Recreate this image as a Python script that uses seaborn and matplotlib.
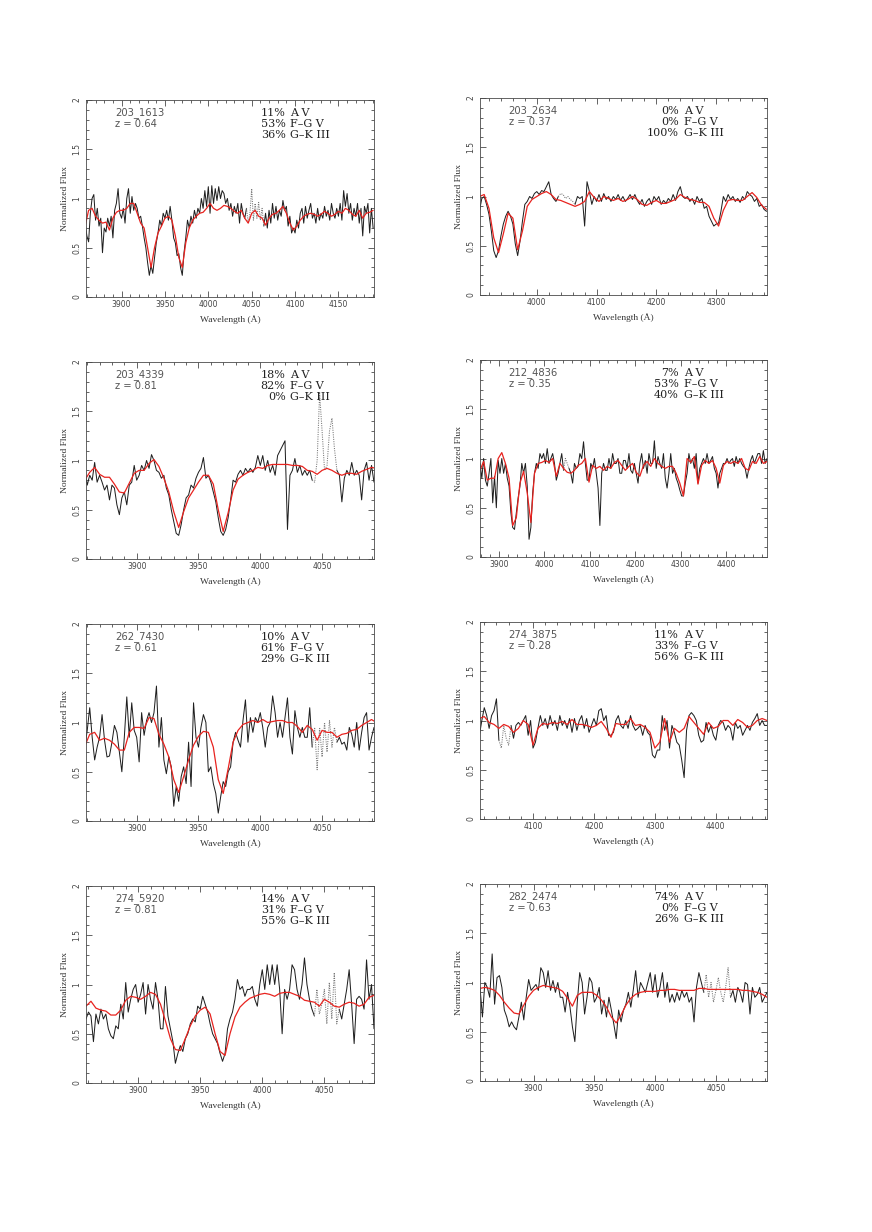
import numpy as np
import seaborn as sns
import matplotlib.pyplot as plt
from matplotlib.ticker import MultipleLocator, FuncFormatter

# Panel labels and fit fractions
galaxy_ids = ["203_1613", "203_2634", "203_4339", "212_4836",
              "262_7430", "274_3875", "274_5920", "282_2474"]
redshifts = ["0.64", "0.37", "0.81", "0.35", "0.61", "0.28", "0.81", "0.63"]
pct_av = [11, 0, 18, 7, 10, 11, 14, 74]
pct_fgv = [53, 0, 82, 53, 61, 33, 31, 0]
pct_gkiii = [36, 100, 0, 40, 29, 56, 55, 26]
type_names = ["A V", "F\u2013G V", "G\u2013K III"]

# Rest-frame wavelength windows and sky-line regions (drawn dotted)
x_limits = [(3859, 4191), (3905, 4385), (3859, 4092), (3858, 4490),
            (3859, 4092), (4013, 4484), (3858, 4090), (3856, 4092)]
x_major = [50, 100, 50, 100, 50, 100, 50, 50]
sky_masks = [(4044, 4064), (4036, 4064), (4042, 4062), (4042, 4054),
             (4042, 4062), (4044, 4064), (4042, 4062), (4040, 4062)]

# Observed spectra: first wavelength, sampling step (A), normalized flux
obs_start = [3858, 3904, 3858, 3858, 3858, 4012, 3858, 3856]
obs_step = [2, 4, 2, 4, 2, 4, 2, 2]

obs_1 = [0.75, 0.62, 0.56, 0.85, 1.0, 1.04, 0.78, 0.9, 0.72, 0.8,
         0.45, 0.7, 0.66, 0.8, 0.72, 0.82, 0.6, 0.88, 0.95, 1.1,
         0.85, 0.8, 0.9, 0.75, 1.0, 1.1, 0.85, 1.02, 0.88, 0.95,
         0.9, 0.8, 0.82, 0.72, 0.6, 0.5, 0.35, 0.22, 0.32, 0.24,
         0.4, 0.55, 0.65, 0.78, 0.72, 0.85, 0.8, 0.88, 0.78, 0.92,
         0.78, 0.6, 0.55, 0.42, 0.44, 0.3, 0.22, 0.45, 0.6, 0.78,
         0.7, 0.82, 0.75, 0.88, 0.8, 0.9, 0.85, 1.0, 0.9, 1.08,
         0.92, 1.12, 0.85, 1.13, 0.95, 1.1, 0.98, 1.12, 1.0, 1.08,
         1.05, 0.95, 1.0, 0.88, 0.95, 0.82, 0.92, 0.85, 0.95, 0.75,
         0.95, 0.85, 0.8, 0.9, 0.75, 0.85, 1.1, 0.78, 0.95, 0.8,
         0.96, 0.78, 0.9, 0.72, 0.85, 0.7, 0.88, 0.75, 0.95, 0.8,
         0.92, 0.78, 0.88, 0.82, 0.98, 0.88, 0.92, 0.72, 0.82, 0.65,
         0.7, 0.65, 0.78, 0.7, 0.85, 0.9, 0.75, 0.92, 0.8, 0.88,
         0.95, 0.8, 0.85, 0.75, 0.9, 0.78, 0.85, 0.8, 0.92, 0.82,
         0.88, 0.78, 0.95, 0.85, 0.8, 0.9, 0.82, 0.95, 0.78, 1.08,
         0.92, 1.05, 0.85, 0.95, 0.78, 0.9, 0.82, 0.95, 0.75, 0.9,
         0.62, 0.92, 0.85, 0.95, 0.65, 0.9, 0.7]

obs_2 = [0.85, 0.98, 1.0, 0.92, 0.82, 0.65, 0.45, 0.38, 0.45, 0.6,
         0.72, 0.8, 0.85, 0.8, 0.72, 0.52, 0.4, 0.55, 0.75, 0.92,
         0.95, 1.0, 0.98, 1.03, 1.05, 1.02, 1.06, 1.05, 1.1, 1.15,
         1.02, 0.98, 0.95, 1.0, 1.03, 1.02, 0.98, 1.0, 0.97, 0.95,
         0.92, 1.0, 0.98, 1.0, 0.7, 1.15, 1.05, 0.92, 1.0, 0.95,
         1.02, 0.95, 1.03, 0.97, 1.0, 0.95, 1.0, 0.97, 1.02, 0.96,
         1.0, 0.95, 0.98, 1.02, 0.97, 1.02, 0.96, 0.92, 0.97, 0.9,
         0.95, 0.98, 0.92, 1.0, 0.96, 1.0, 0.92, 0.96, 0.93, 0.98,
         0.95, 1.02, 0.96, 1.05, 1.1, 1.0, 0.98, 1.0, 0.95, 0.98,
         0.92, 1.0, 0.95, 0.98, 0.88, 0.9, 0.8, 0.75, 0.7, 0.72,
         0.73, 0.85, 1.0, 0.95, 1.02, 0.97, 1.0, 0.95, 0.98, 0.94,
         1.0, 0.97, 1.05, 1.02, 1.0, 0.95, 0.98, 0.9, 0.92, 0.87,
         0.85, 0.86]

obs_3 = [0.9, 0.75, 0.85, 0.8, 0.98, 0.78, 0.85, 0.78, 0.7, 0.75,
         0.6, 0.75, 0.72, 0.55, 0.45, 0.62, 0.68, 0.55, 0.75, 0.78,
         0.95, 0.8, 0.85, 0.95, 0.9, 1.0, 0.92, 1.06, 1.0, 0.9,
         0.88, 0.82, 0.85, 0.72, 0.65, 0.5, 0.38, 0.26, 0.24, 0.35,
         0.5, 0.62, 0.65, 0.75, 0.72, 0.82, 0.88, 0.92, 1.03, 0.82,
         0.85, 0.78, 0.68, 0.58, 0.42, 0.28, 0.24, 0.3, 0.42, 0.6,
         0.8, 0.78, 0.86, 0.9, 0.85, 0.92, 0.88, 0.92, 0.88, 0.93,
         1.05, 0.95, 1.05, 0.9, 1.0, 0.88, 0.95, 0.85, 1.05, 1.1,
         1.15, 1.2, 0.3, 0.85, 0.9, 1.02, 0.88, 0.95, 0.85, 0.9,
         0.85, 0.9, 0.8, 0.78, 1.0, 1.68, 1.3, 0.9, 0.95, 1.3,
         1.43, 1.12, 0.9, 0.85, 0.58, 0.82, 0.9, 0.85, 0.98, 0.85,
         0.9, 0.85, 0.6, 0.9, 0.98, 0.8, 0.95, 0.78]

obs_4 = [0.95, 0.8, 1.0, 0.78, 0.72, 0.85, 1.0, 0.55, 0.82, 0.5,
         0.98, 0.85, 1.0, 0.85, 0.95, 0.8, 0.72, 0.45, 0.3, 0.28,
         0.45, 0.6, 0.72, 0.95, 0.85, 0.95, 0.72, 0.18, 0.3, 0.65,
         0.85, 0.95, 0.9, 1.05, 1.0, 1.05, 0.95, 1.1, 0.95, 1.0,
         1.05, 0.95, 0.78, 0.85, 0.95, 1.05, 0.88, 1.0, 0.95, 0.9,
         0.85, 0.75, 0.95, 0.9, 0.92, 1.05, 1.0, 1.17, 0.95, 0.78,
         0.78, 0.95, 0.9, 1.0, 0.85, 0.7, 0.32, 0.85, 0.95, 0.88,
         0.88, 1.0, 0.9, 1.05, 0.95, 0.95, 1.0, 0.85, 0.85, 0.98,
         0.98, 0.9, 1.05, 0.88, 0.85, 0.95, 0.85, 0.75, 0.95, 1.05,
         0.9, 0.98, 0.85, 1.05, 0.95, 0.95, 1.18, 0.9, 1.02, 0.95,
         0.9, 1.05, 0.8, 0.7, 0.85, 1.05, 0.85, 0.9, 0.8, 0.75,
         0.68, 0.62, 0.62, 0.75, 0.85, 1.05, 0.95, 1.0, 0.9, 1.05,
         0.75, 0.9, 0.95, 1.0, 0.95, 1.05, 0.95, 0.98, 1.02, 0.9,
         0.85, 0.7, 0.85, 0.9, 0.95, 0.95, 1.0, 0.95, 0.98, 1.0,
         0.92, 1.02, 0.95, 1.0, 0.95, 0.92, 0.9, 0.8, 0.9, 0.98,
         1.03, 0.95, 1.0, 1.05, 1.05, 0.95, 1.08, 0.95, 1.0]

obs_5 = [0.75, 0.92, 1.15, 0.85, 0.62, 0.75, 0.85, 1.08, 0.82, 0.65,
         0.66, 0.8, 0.97, 0.9, 0.7, 0.5, 0.85, 1.26, 0.85, 1.2,
         0.92, 0.85, 0.6, 1.1, 0.87, 1.02, 1.1, 1.0, 1.1, 1.37,
         0.75, 1.05, 0.62, 0.48, 0.65, 0.55, 0.15, 0.35, 0.2, 0.45,
         0.55, 0.38, 0.8, 0.35, 1.2, 0.85, 0.75, 0.95, 1.08, 1.0,
         0.5, 0.55, 0.38, 0.28, 0.08, 0.25, 0.4, 0.35, 0.5, 0.55,
         0.8, 0.9, 0.82, 0.75, 1.02, 1.23, 0.8, 1.05, 0.9, 1.05,
         1.0, 1.1, 0.95, 0.75, 0.95, 1.0, 1.27, 1.1, 0.85, 1.0,
         0.85, 1.05, 1.25, 0.85, 0.68, 1.12, 0.95, 0.85, 0.95, 0.85,
         0.85, 1.15, 0.75, 0.95, 0.52, 0.95, 0.65, 1.0, 0.7, 1.02,
         0.75, 0.95, 0.8, 0.85, 0.78, 0.8, 0.72, 0.95, 0.88, 0.75,
         1.0, 0.72, 0.9, 1.05, 1.1, 0.72, 0.85, 0.95]

obs_6 = [0.85, 1.0, 1.13, 1.05, 0.92, 1.05, 1.1, 1.22, 0.8, 0.72,
         0.95, 0.82, 0.75, 0.95, 0.82, 0.95, 0.98, 0.95, 1.0, 1.05,
         0.85, 1.0, 0.72, 0.78, 0.92, 1.05, 0.95, 1.02, 0.92, 1.05,
         0.95, 1.0, 0.9, 1.05, 0.95, 1.0, 0.92, 1.02, 0.88, 1.02,
         0.9, 1.0, 1.05, 0.92, 1.02, 0.88, 0.95, 1.02, 0.95, 1.1,
         1.12, 1.0, 1.05, 0.85, 0.85, 0.88, 1.0, 1.05, 0.95, 0.92,
         1.0, 0.92, 1.05, 0.95, 0.9, 0.92, 0.95, 0.85, 0.95, 0.88,
         0.85, 0.65, 0.62, 0.7, 0.7, 1.05, 0.9, 1.0, 0.72, 0.95,
         0.88, 0.78, 0.75, 0.6, 0.42, 0.9, 1.05, 1.08, 1.05, 1.0,
         0.85, 0.78, 0.8, 0.98, 0.88, 0.95, 0.85, 0.8, 0.95, 1.0,
         0.98, 0.9, 0.95, 0.92, 0.8, 0.98, 0.92, 0.95, 0.85, 0.9,
         0.95, 0.9, 0.98, 1.02, 1.07, 0.95, 1.0, 0.95, 0.95]

obs_7 = [0.65, 0.72, 0.68, 0.42, 0.7, 0.6, 0.75, 0.65, 0.7, 0.55,
         0.48, 0.45, 0.58, 0.55, 0.8, 0.65, 1.02, 0.72, 0.85, 0.95,
         1.0, 0.82, 0.9, 1.02, 0.7, 1.0, 0.85, 0.75, 1.02, 0.85,
         0.55, 0.55, 0.98, 0.68, 0.55, 0.42, 0.2, 0.3, 0.38, 0.32,
         0.45, 0.5, 0.6, 0.65, 0.62, 0.78, 0.75, 0.88, 0.8, 0.72,
         0.6, 0.5, 0.45, 0.4, 0.3, 0.22, 0.3, 0.55, 0.65, 0.72,
         0.85, 1.05, 0.95, 0.98, 0.88, 0.95, 0.95, 0.98, 0.85, 0.78,
         1.0, 1.15, 0.95, 1.2, 1.0, 1.2, 1.0, 1.2, 0.95, 0.5,
         0.95, 0.85, 0.95, 1.2, 1.15, 0.95, 0.85, 1.0, 1.27, 1.0,
         0.85, 0.75, 0.68, 0.95, 0.7, 0.8, 0.95, 0.6, 1.02, 0.65,
         1.12, 0.6, 0.75, 0.65, 0.8, 0.95, 1.15, 0.8, 0.4, 0.85,
         0.88, 0.85, 0.75, 1.25, 0.85, 1.0, 0.55]

obs_8 = [0.95, 0.65, 1.0, 0.95, 0.85, 1.29, 0.78, 1.05, 1.07, 0.95,
         0.72, 0.65, 0.55, 0.6, 0.55, 0.52, 0.65, 0.8, 0.62, 0.85,
         1.03, 0.92, 0.95, 0.98, 0.92, 1.15, 1.1, 0.95, 1.12, 0.92,
         1.02, 0.9, 1.0, 0.85, 0.85, 0.7, 0.9, 0.75, 0.55, 0.4,
         0.8, 1.1, 1.0, 0.68, 0.85, 1.05, 1.0, 0.8, 0.85, 0.95,
         0.68, 0.82, 0.65, 0.85, 0.72, 0.58, 0.43, 0.72, 0.6, 0.72,
         0.78, 0.9, 0.75, 0.92, 1.12, 0.85, 1.0, 0.95, 0.9, 1.0,
         1.1, 0.9, 1.08, 0.85, 0.95, 1.1, 0.85, 1.0, 0.8, 0.88,
         0.8, 0.9, 0.82, 0.92, 0.85, 0.9, 0.8, 0.85, 0.6, 0.95,
         1.1, 1.0, 0.9, 1.08, 0.85, 1.0, 0.8, 0.92, 1.05, 0.9,
         0.8, 0.95, 1.15, 0.85, 0.92, 0.8, 0.95, 0.9, 0.8, 1.0,
         0.98, 0.68, 0.95, 0.85, 0.88, 0.95, 0.8, 0.85, 0.9]

# Best-fit composite templates
model_start = [3858, 3904, 3858, 3858, 3858, 4012, 3858, 3856]
model_step = [4, 8, 4, 8, 4, 8, 4, 4]

model_1 = [0.72, 0.88, 0.9, 0.82, 0.78, 0.75, 0.76, 0.68, 0.8, 0.86,
           0.88, 0.88, 0.9, 0.95, 0.95, 0.85, 0.75, 0.7, 0.5, 0.3,
           0.5, 0.65, 0.72, 0.8, 0.82, 0.78, 0.62, 0.4, 0.3, 0.55,
           0.7, 0.78, 0.82, 0.85, 0.86, 0.9, 0.95, 0.9, 0.88, 0.9,
           0.93, 0.92, 0.9, 0.87, 0.85, 0.88, 0.8, 0.75, 0.85, 0.88,
           0.82, 0.8, 0.73, 0.8, 0.84, 0.85, 0.88, 0.92, 0.85, 0.75,
           0.68, 0.72, 0.78, 0.82, 0.84, 0.85, 0.84, 0.82, 0.84, 0.87,
           0.85, 0.82, 0.84, 0.87, 0.85, 0.9, 0.88, 0.84, 0.82, 0.88,
           0.8, 0.85, 0.86, 0.88]

model_2 = [1.0, 1.02, 0.88, 0.58, 0.43, 0.62, 0.83, 0.78, 0.46, 0.65,
           0.9, 0.97, 1.0, 1.03, 1.05, 1.02, 0.97, 0.96, 0.94, 0.92,
           0.9, 0.92, 0.95, 1.05, 0.99, 0.95, 1.0, 0.98, 0.96, 0.98,
           0.95, 0.97, 1.0, 0.97, 0.92, 0.91, 0.94, 0.96, 0.93, 0.93,
           0.95, 0.97, 1.02, 0.99, 0.97, 0.96, 0.94, 0.94, 0.9, 0.78,
           0.7, 0.86, 0.96, 0.97, 0.96, 0.96, 1.0, 1.04, 0.99, 0.91,
           0.87]

model_3 = [0.8, 0.88, 0.93, 0.86, 0.83, 0.83, 0.76, 0.68, 0.67, 0.77,
           0.87, 0.9, 0.9, 0.97, 1.01, 0.94, 0.82, 0.68, 0.48, 0.32,
           0.48, 0.62, 0.7, 0.78, 0.85, 0.85, 0.76, 0.5, 0.28, 0.47,
           0.7, 0.81, 0.85, 0.88, 0.9, 0.93, 0.92, 0.95, 0.96, 0.96,
           0.96, 0.96, 0.95, 0.95, 0.94, 0.9, 0.89, 0.86, 0.9, 0.92,
           0.9, 0.87, 0.85, 0.87, 0.87, 0.86, 0.89, 0.91, 0.93, 0.92]

model_4 = [0.88, 0.97, 0.78, 0.8, 0.8, 1.0, 1.06, 0.95, 0.8, 0.32,
           0.4, 0.75, 0.87, 0.65, 0.35, 0.85, 0.95, 0.96, 0.98, 0.96,
           1.0, 0.82, 0.95, 0.9, 0.86, 0.85, 0.88, 0.93, 0.95, 1.0,
           0.76, 0.93, 0.9, 0.92, 0.88, 0.92, 0.9, 0.96, 0.98, 0.93,
           0.88, 0.92, 0.95, 0.86, 0.82, 0.93, 0.97, 0.92, 1.0, 0.95,
           0.92, 0.9, 0.92, 0.92, 0.85, 0.75, 0.62, 1.0, 0.96, 1.02,
           0.74, 0.93, 0.98, 0.95, 0.98, 0.9, 0.75, 0.93, 0.97, 0.95,
           0.97, 0.95, 1.0, 0.9, 0.88, 0.97, 0.95, 1.02, 0.95, 0.97]

model_5 = [0.76, 0.88, 0.9, 0.82, 0.84, 0.82, 0.78, 0.72, 0.72, 0.9,
           0.95, 0.95, 0.94, 1.05, 1.04, 0.88, 0.78, 0.65, 0.42, 0.29,
           0.45, 0.62, 0.77, 0.86, 0.91, 0.9, 0.75, 0.42, 0.28, 0.53,
           0.8, 0.92, 0.98, 1.0, 1.02, 1.0, 1.03, 1.0, 1.01, 1.02,
           1.02, 1.0, 1.0, 0.96, 0.9, 0.97, 0.93, 0.82, 0.92, 0.9,
           0.9, 0.85, 0.88, 0.89, 0.92, 0.93, 0.97, 1.0, 1.03, 1.0]

model_6 = [1.02, 1.04, 0.98, 0.96, 0.92, 0.96, 0.94, 0.88, 0.92, 1.0,
           0.96, 0.75, 0.92, 0.97, 0.96, 0.98, 0.97, 0.99, 0.96, 1.01,
           0.96, 0.96, 0.95, 0.93, 0.95, 0.99, 0.92, 0.83, 0.97, 0.96,
           0.96, 1.02, 0.95, 0.96, 0.93, 0.88, 0.72, 0.78, 1.02, 0.78,
           0.92, 0.88, 0.92, 1.04, 0.98, 0.92, 0.86, 0.98, 0.92, 0.94,
           1.0, 1.0, 0.95, 1.01, 0.98, 0.93, 0.95, 1.0, 1.02, 1.0]

model_7 = [0.78, 0.83, 0.76, 0.74, 0.73, 0.69, 0.69, 0.74, 0.84, 0.88,
           0.87, 0.85, 0.88, 0.92, 0.9, 0.8, 0.63, 0.45, 0.34, 0.33,
           0.45, 0.58, 0.68, 0.74, 0.77, 0.7, 0.5, 0.32, 0.28, 0.5,
           0.67, 0.77, 0.82, 0.86, 0.88, 0.9, 0.91, 0.9, 0.88, 0.91,
           0.92, 0.92, 0.9, 0.88, 0.84, 0.83, 0.82, 0.78, 0.85, 0.82,
           0.78, 0.77, 0.8, 0.82, 0.81, 0.78, 0.8, 0.87, 0.89]

model_8 = [0.94, 0.95, 0.94, 0.92, 0.87, 0.8, 0.74, 0.69, 0.68, 0.77,
           0.86, 0.92, 0.95, 0.97, 0.96, 0.95, 0.94, 0.91, 0.84, 0.76,
           0.87, 0.9, 0.9, 0.9, 0.87, 0.82, 0.75, 0.65, 0.59, 0.67,
           0.77, 0.84, 0.88, 0.9, 0.91, 0.91, 0.91, 0.92, 0.92, 0.93,
           0.93, 0.92, 0.92, 0.92, 0.92, 0.94, 0.94, 0.93, 0.93, 0.93,
           0.93, 0.93, 0.93, 0.93, 0.92, 0.92, 0.91, 0.9, 0.88, 0.85]

obs_flux = [obs_1, obs_2, obs_3, obs_4, obs_5, obs_6, obs_7, obs_8]
model_flux = [model_1, model_2, model_3, model_4,
              model_5, model_6, model_7, model_8]

# Style
sns.set_style("ticks")
plt.rcParams['font.family'] = ['DejaVu Sans']

fig = plt.figure(figsize=(8.72, 12.32), dpi=100)
W, H = 872.0, 1232.0

# axes boxes in pixels (left, bottom edge from top, width, height)
boxes = [(86, 297, 288, 197), (480, 295, 287, 197),
         (86, 559, 288, 197), (480, 557, 287, 197),
         (86, 821, 288, 197), (480, 819, 287, 197),
         (86, 1083, 288, 197), (480, 1081, 287, 197)]

frame_col = "#4a4a4a"
label_font = ['Liberation Serif', 'DejaVu Serif']

for i in range(8):
    x0, yb, w, h = boxes[i]
    ax = fig.add_axes([x0 / W, 1 - yb / H, w / W, h / H])

    lam = obs_start[i] + obs_step[i] * np.arange(len(obs_flux[i]))
    flux = np.array(obs_flux[i])
    m0, m1 = sky_masks[i]

    before = lam <= m0
    after = lam >= m1
    inside = (lam >= m0) & (lam <= m1)

    for sel in (before, after):
        sns.lineplot(x=lam[sel], y=flux[sel], ax=ax, color="#1e1e1e",
                     linewidth=0.72, estimator=None, sort=False)
    sns.lineplot(x=lam[inside], y=flux[inside], ax=ax, color="#777777",
                 linewidth=0.75, linestyle=(0, (1, 1.2)),
                 estimator=None, sort=False)

    mlam = model_start[i] + model_step[i] * np.arange(len(model_flux[i]))
    sns.lineplot(x=mlam, y=model_flux[i], ax=ax, color="#e8231f",
                 linewidth=0.9, estimator=None, sort=False)

    ax.set_xlim(*x_limits[i])
    ax.set_ylim(0, 2)

    ax.xaxis.set_major_locator(MultipleLocator(x_major[i]))
    ax.xaxis.set_minor_locator(MultipleLocator(x_major[i] / 5))
    ax.yaxis.set_major_locator(MultipleLocator(0.5))
    ax.yaxis.set_minor_locator(MultipleLocator(0.1))
    ax.yaxis.set_major_formatter(FuncFormatter(lambda v, p: f"{v:g}"))

    ax.tick_params(which='both', direction='in', top=True, right=True,
                   color=frame_col, width=0.6, labelsize=5.5,
                   labelcolor="#444444")
    ax.tick_params(which='major', length=4.5)
    ax.tick_params(which='minor', length=2.2)
    ax.tick_params(axis='x', pad=2.5)
    ax.tick_params(axis='y', pad=3.5)
    for lab in ax.get_yticklabels():
        lab.set_rotation(90)
        lab.set_va('center')

    for sp in ax.spines.values():
        sp.set_linewidth(0.6)
        sp.set_color(frame_col)

    ax.set_xlabel("Wavelength (\u00c5)", fontsize=6.8, family=label_font,
                  color="#333333", labelpad=4)
    ax.set_ylabel("Normalized Flux", fontsize=6.8, family=label_font,
                  color="#333333", labelpad=2)

    # galaxy id and redshift
    ax.text(0.10, 0.937, galaxy_ids[i], transform=ax.transAxes,
            fontsize=7.2, color="#555555", ha='left', va='center')
    ax.text(0.10, 0.876, "z = " + redshifts[i], transform=ax.transAxes,
            fontsize=7.2, color="#555555", ha='left', va='center')

    # template fractions
    pcts = [pct_av[i], pct_fgv[i], pct_gkiii[i]]
    for k, yy in enumerate([0.935, 0.878, 0.82]):
        ax.text(0.693, yy, f"{pcts[k]}%", transform=ax.transAxes,
                fontsize=8, family='DejaVu Serif', color="#222222",
                ha='right', va='center')
        ax.text(0.71, yy, type_names[k], transform=ax.transAxes,
                fontsize=8, family='DejaVu Serif', color="#222222",
                ha='left', va='center')

fig.savefig("out.png", dpi=100)
plt.close(fig)
